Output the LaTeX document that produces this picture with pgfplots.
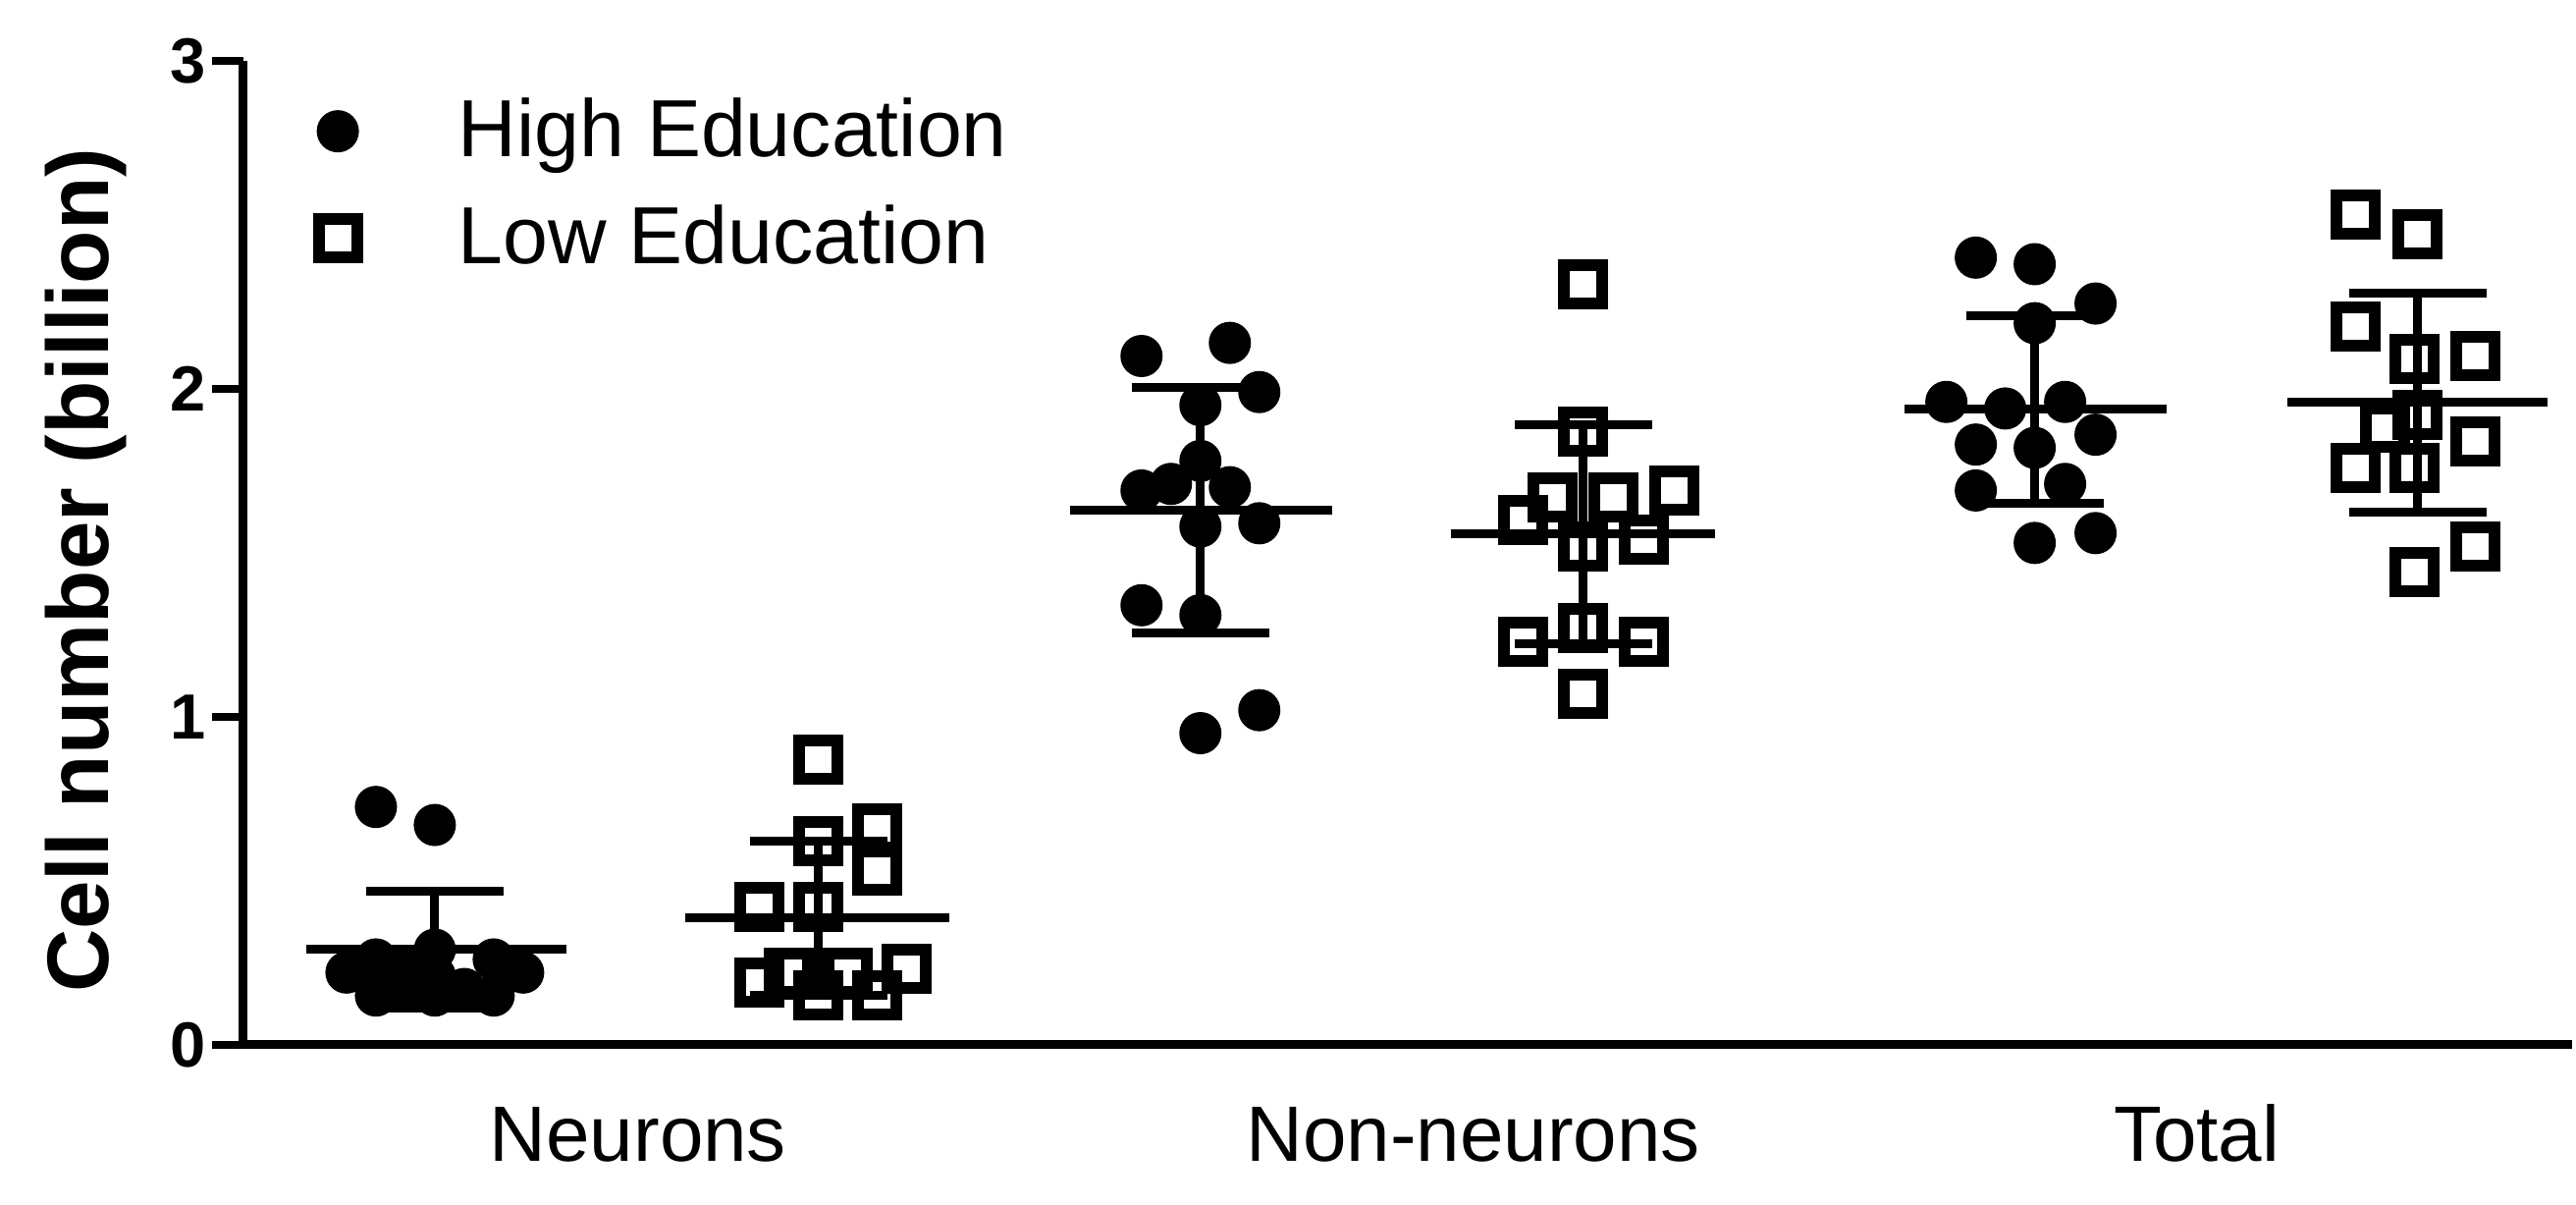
\documentclass[border=0pt]{standalone}
\usepackage{pgfplots}
\pgfplotsset{compat=1.18}
\usepackage{fontspec}
\setmainfont{Liberation Sans}

% x is measured in pixels of the original figure, y in billions of cells
\begin{document}
\begin{tikzpicture}
\begin{axis}[
  width=474.4pt, height=200.4pt, scale only axis,
  xmin=248, xmax=2620, ymin=0, ymax=3,
  axis x line=bottom, axis y line=left,
  axis line style={-, line width=1.8pt},
  xtick={650,1501,2238},
  xticklabels={Neurons, Non-neurons, Total},
  x tick style={draw=none},
  xticklabel style={font=\fontsize{16}{16}\selectfont, anchor=base, yshift=-17.3pt},
  ytick={0,1,2,3},
  tick align=outside,
  major tick length=6.4pt,
  y tick style={line width=1.6pt, black},
  yticklabel style={font=\fontsize{13}{13}\selectfont\bfseries, inner sep=1pt},
  /pgf/number format/assume math mode=true,
  ylabel={Cell number (billion)},
  ylabel style={font=\fontsize{17.8}{17.8}\selectfont\bfseries,
                at={(axis description cs:-0.0675,0.482)}, anchor=center},
  legend image code/.code={\draw[#1] plot coordinates {(0pt,0pt)};},
  legend cell align=left,
  legend style={draw=none, fill=none, inner sep=0pt,
                at={(axis description cs:0.0315,0.968)}, anchor=north west,
                font=\fontsize{16.5}{16.5}\selectfont, row sep=6.3pt,
                nodes={inner sep=1pt},
                /tikz/every odd column/.append style={column sep=19.4pt}},
  clip=false,
]
% High education
\addplot[only marks, mark=*, mark size=4.1pt, black] coordinates {
  (383,0.725) (443,0.67)
  (353,0.22) (383,0.26) (383,0.15) (413,0.17) (413,0.23) (443,0.29)
  (443,0.21) (443,0.15) (473,0.17) (503,0.26) (503,0.15) (533,0.22)
  (1163,2.10) (1253,2.14) (1283,1.99) (1223,1.95) (1223,1.78) (1163,1.69)
  (1193,1.71) (1253,1.70) (1223,1.58) (1283,1.59) (1163,1.34) (1223,1.31)
  (1283,1.02) (1223,0.95)
  (2013,2.40) (2073,2.38) (2135,2.26) (2073,2.20) (1983,1.96) (2043,1.94)
  (2104,1.96) (2013,1.83) (2073,1.82) (2135,1.86) (2013,1.69) (2104,1.71)
  (2073,1.53) (2135,1.56)
};
\addlegendentry{High Education}
% Low education
\addplot[only marks, mark=square, mark size=3.9pt, black,
         mark options={line width=2.4pt}] coordinates {
  (834,0.87) (834,0.62) (894,0.66) (894,0.53) (774,0.42) (834,0.42)
  (774,0.19) (804,0.22) (834,0.15) (864,0.22) (894,0.15) (924,0.23)
  (1613,2.32) (1613,1.87) (1706,1.69) (1582,1.67) (1644,1.67) (1552,1.60)
  (1675,1.54) (1613,1.52) (1613,1.27) (1552,1.23) (1675,1.23) (1613,1.07)
  (2400,2.53) (2463,2.47) (2400,2.19) (2460,2.09) (2522,2.10) (2430,1.88)
  (2522,1.84) (2400,1.76) (2460,1.76) (2522,1.52) (2460,1.44) (2463,1.92)
};
\addlegendentry{Low Education}
% means
\addplot[black, line width=1.8pt, unbounded coords=jump, forget plot] coordinates {
  (312,0.29) (577,0.29) (nan,nan)
  (698,0.386) (967,0.386) (nan,nan)
  (1090,1.63) (1357,1.63) (nan,nan)
  (1478,1.557) (1747,1.557) (nan,nan)
  (1940,1.937) (2207,1.937) (nan,nan)
  (2330,1.958) (2595,1.958)
};
% standard deviations: whisker and the two caps of each group
\addplot[black, line width=1.8pt, unbounded coords=jump, forget plot] coordinates {
  (443,0.113) (443,0.467) (nan,nan) (373,0.467) (513,0.467) (nan,nan) (373,0.113) (513,0.113) (nan,nan)
  (834,0.152) (834,0.620) (nan,nan) (764,0.620) (904,0.620) (nan,nan) (764,0.152) (904,0.152) (nan,nan)
  (1223,1.255) (1223,2.005) (nan,nan) (1153,2.005) (1293,2.005) (nan,nan) (1153,1.255) (1293,1.255) (nan,nan)
  (1613,1.224) (1613,1.890) (nan,nan) (1543,1.890) (1683,1.890) (nan,nan) (1543,1.224) (1683,1.224) (nan,nan)
  (2073,1.652) (2073,2.222) (nan,nan) (2003,2.222) (2143,2.222) (nan,nan) (2003,1.652) (2143,1.652) (nan,nan)
  (2463,1.623) (2463,2.293) (nan,nan) (2393,2.293) (2533,2.293) (nan,nan) (2393,1.623) (2533,1.623)
};
\end{axis}
\path (-49.6pt,-32.6pt) (475.2pt,212.8pt);
\end{tikzpicture}
\end{document}
